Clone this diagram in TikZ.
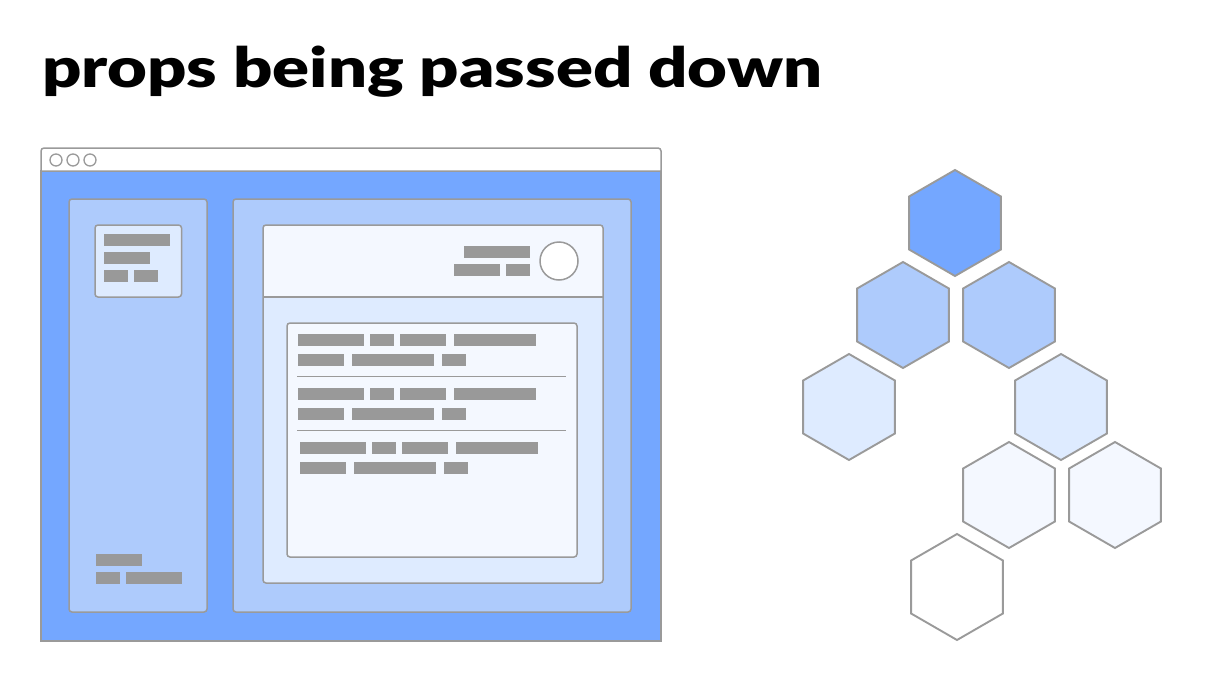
\documentclass[tikz,border=0pt]{standalone}
\usepackage{fontspec}
\usetikzlibrary{shapes.geometric}
\newfontfamily\titlefont{Lato Black}
\definecolor{cBlue}{HTML}{74A7FF}
\definecolor{cMid}{HTML}{AECBFC}
\definecolor{cLight}{HTML}{DEEBFF}
\definecolor{cPale}{HTML}{F4F8FF}
\definecolor{cGray}{HTML}{999999}
\definecolor{cLine}{HTML}{9A9A9A}
\tikzset{
  panel/.style={draw=cLine, line width=1.5pt, rounded corners=3pt},
  bar/.style={fill=cGray, draw=none},
  sep/.style={draw=cLine, line width=1.5pt},
  hex/.style={regular polygon, regular polygon sides=6, shape border rotate=30,
    minimum size=106pt, inner sep=0pt, draw=cLine, line width=1.9pt},
}
\begin{document}
\begin{tikzpicture}[x=1pt, y=-1pt]
\useasboundingbox (0,0) rectangle (1220,688);
% title
\node[anchor=base west, inner sep=0pt] (title) at (42,87.5)
  {\resizebox{780pt}{41.5pt}{\titlefont\fontsize{60}{72}\selectfont props being passed down}};
% browser window
\draw[draw=cLine, line width=1.5pt, fill=cBlue] (41,171) rectangle (661,641);
\draw[draw=cLine, line width=1.5pt, fill=white] (41,171) [rounded corners=3pt] -- (41,148) -- (661,148) [sharp corners] -- (661,171) -- cycle;
\foreach \cx in {56,73,90} \draw[draw=cLine, line width=1.3pt, fill=white] (\cx,160) circle (6pt);
% left panel
\draw[panel, fill=cMid] (69,199) rectangle (207,612);
\draw[panel, fill=cLight] (95,225) rectangle (181.5,297);
\fill[bar] (104,234) rectangle (170,245.7);
\fill[bar] (104,252.3) rectangle (150,263.7);
\fill[bar] (104,270) rectangle (128,281.7);
\fill[bar] (134,270) rectangle (158,281.7);
\fill[bar] (96,554) rectangle (142,565.7);
\fill[bar] (96,572) rectangle (120,583.7);
\fill[bar] (126,572) rectangle (182,583.7);
% right panel
\draw[panel, fill=cMid] (233,199) rectangle (631,612);
\path[fill=cLight, rounded corners=3pt] (263,225) rectangle (603,583);
\path[fill=cPale] (263,228) rectangle (603,297);
\path[fill=cPale, rounded corners=3pt] (263,225) rectangle (603,240);
\draw[panel] (263,225) rectangle (603,583);
\draw[sep] (263,297) -- (603,297);
\fill[bar] (464,246) rectangle (530,257.7);
\fill[bar] (454,264) rectangle (500,275.7);
\fill[bar] (506,264) rectangle (530,275.7);
\draw[draw=cLine, line width=1.5pt, fill=white] (559,261) circle (19pt);
% inner card
\draw[panel, fill=cPale] (287,323) rectangle (577,557);
\foreach \dx/\ya/\yb in {0/334/354, 0/388/408, 2/442/462} {
  \fill[bar] (298+\dx,\ya) rectangle (364+\dx,\ya+11.7);
  \fill[bar] (370+\dx,\ya) rectangle (394+\dx,\ya+11.7);
  \fill[bar] (400+\dx,\ya) rectangle (446+\dx,\ya+11.7);
  \fill[bar] (454+\dx,\ya) rectangle (536+\dx,\ya+11.7);
  \fill[bar] (298+\dx,\yb) rectangle (344+\dx,\yb+11.7);
  \fill[bar] (352+\dx,\yb) rectangle (434+\dx,\yb+11.7);
  \fill[bar] (442+\dx,\yb) rectangle (466+\dx,\yb+11.7);
}
\draw[sep] (297,376.7) -- (566,376.7);
\draw[sep] (297,430.7) -- (566,430.7);
% hexagons
\node[hex, fill=cBlue]  (h1) at (955,223) {};
\node[hex, fill=cMid]   (h2) at (903,315) {};
\node[hex, fill=cMid]   (h3) at (1009,315) {};
\node[hex, fill=cLight] (h4) at (849,407) {};
\node[hex, fill=cLight] (h5) at (1061,407) {};
\node[hex, fill=cPale]  (h6) at (1009,495) {};
\node[hex, fill=cPale]  (h7) at (1115,495) {};
\node[hex, fill=white]  (h8) at (957,587) {};
\end{tikzpicture}
\end{document}
